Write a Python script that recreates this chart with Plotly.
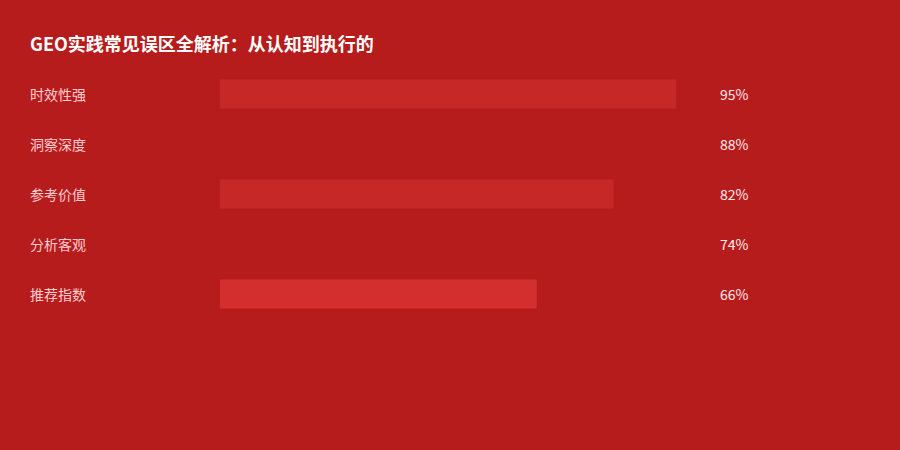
import plotly.graph_objects as go

categories = ['时效性强', '洞察深度', '参考价值', '分析客观', '推荐指数']
values = [95, 88, 82, 74, 66]
bar_colors = ['#C62828', '#B71C1C', '#C62828', '#B71C1C', '#D32F2F']
title = 'GEO实践常见误区全解析：从认知到执行的'

font_family = 'Noto Sans CJK SC, Noto Sans, sans-serif'

fig = go.Figure(
    go.Bar(
        x=values,
        y=categories,
        orientation='h',
        marker=dict(color=bar_colors, line=dict(width=0)),
        width=0.58,
        hoverinfo='skip',
    )
)

annotations = []
for cat, val in zip(categories, values):
    annotations.append(dict(
        x=-190 / 480, y=cat, xref='paper', yref='y', xshift=-2,
        text=cat, showarrow=False, xanchor='left', yanchor='middle',
        font=dict(family=font_family, size=14, color='#FFCDD2'),
    ))
    annotations.append(dict(
        x=500 / 480, y=cat, xref='paper', yref='y', xshift=-2,
        text=f'{val}%', showarrow=False, xanchor='left', yanchor='middle',
        font=dict(family=font_family, size=14, color='#FFEBEE'),
    ))

fig.update_layout(
    width=900,
    height=450,
    paper_bgcolor='#B71C1C',
    plot_bgcolor='#B71C1C',
    margin=dict(l=220, r=200, t=69, b=131, pad=0),
    title=dict(
        text=title,
        x=30 / 900, xanchor='left', xref='container',
        y=1 - 45 / 450, yanchor='middle', yref='container',
        font=dict(family=font_family, size=18, color='#FFFFFF', weight='bold'),
    ),
    xaxis=dict(range=[0, 100], visible=False, fixedrange=True),
    yaxis=dict(
        categoryorder='array', categoryarray=categories,
        autorange='reversed', range=[4.5, -0.5],
        visible=False, fixedrange=True,
    ),
    annotations=annotations,
    showlegend=False,
)

fig.write_html('out.html', config={'displayModeBar': False})

# drop the default body margin so the chart fills the window
with open('out.html', encoding='utf-8') as f:
    html = f.read()
html = html.replace('<body>', '<body style="margin:0;background:#B71C1C">', 1)
with open('out.html', 'w', encoding='utf-8') as f:
    f.write(html)
